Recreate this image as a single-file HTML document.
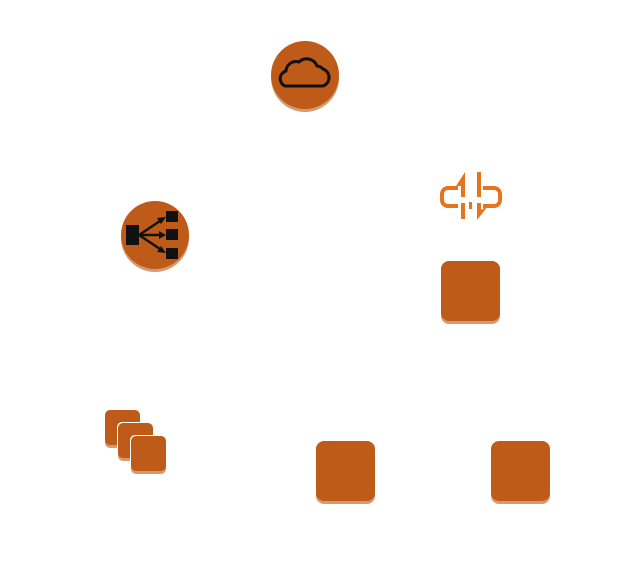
<!DOCTYPE html>
<html><head><style>html,body{margin:0;padding:0;background:#fff;width:621px;height:571px;overflow:hidden}</style></head>
<body>
<svg width="621" height="571" viewBox="0 0 621 571" xmlns="http://www.w3.org/2000/svg">
<defs>
<g id="sq"><rect x="0" y="3" width="59" height="60" rx="8" fill="#D49A72"/><rect x="0" y="0" width="59" height="60" rx="8" fill="#BE5B18"/></g>
</defs>
<circle cx="305" cy="78" r="34" fill="#D49A72"/>
<circle cx="305" cy="75" r="34" fill="#BE5B18"/>
<path d="M285 86 H323 A9 9 0 0 0 323 69 A9 9 0 0 0 317 66 A11 11 0 0 0 299 62 A10 10 0 0 0 286 71 A8 8 0 0 0 285 86 Z" fill="none" stroke="#111" stroke-width="3" stroke-linejoin="round"/>
<circle cx="155" cy="238" r="34" fill="#D49A72"/>
<circle cx="155" cy="235" r="34" fill="#BE5B18"/>
<rect x="126" y="225" width="13" height="20" fill="#111"/>
<rect x="166" y="211" width="12" height="11" fill="#111"/>
<rect x="166" y="229" width="12" height="11" fill="#111"/>
<rect x="166" y="248" width="12" height="11" fill="#111"/>
<g stroke="#111" stroke-width="2.5" fill="none"><line x1="139" y1="235" x2="163" y2="219"/><line x1="139" y1="235" x2="163" y2="235"/><line x1="139" y1="235" x2="163" y2="251"/></g>
<polygon points="166,217 157,218 161,224" fill="#111"/>
<polygon points="166,235 159,231 159,239" fill="#111"/>
<polygon points="166,253 161,246 157,252" fill="#111"/>
<g fill="none" stroke="#E8731E" stroke-width="4">
<path d="M458 188 H448 A6 6 0 0 0 442 194 V200 A6 6 0 0 0 448 206 H458"/>
<path d="M483 188 H494 A6 6 0 0 1 500 194 V200 A6 6 0 0 1 494 206 H483"/>
<line x1="463" y1="178" x2="463" y2="197"/>
<line x1="479" y1="172" x2="479" y2="197"/>
<line x1="463" y1="203" x2="463" y2="219"/>
<line x1="479" y1="203" x2="479" y2="212"/>
</g>
<polygon points="456,186 465,172 465,186" fill="#E8731E"/>
<polygon points="477,212 488,206 477,220" fill="#E8731E"/>
<rect x="469" y="202" width="3" height="7" fill="#E8731E"/>
<use href="#sq" x="441" y="261"/>
<use href="#sq" x="316" y="441"/>
<use href="#sq" x="491" y="441"/>
<g>
<rect x="105" y="413" width="35" height="35" rx="5" fill="#D49A72"/><rect x="105" y="410" width="35" height="35" rx="5" fill="#BE5B18"/>
<rect x="117" y="422" width="37" height="40" rx="5" fill="#fff"/>
<rect x="118" y="426" width="35" height="35" rx="5" fill="#D49A72"/><rect x="118" y="423" width="35" height="35" rx="5" fill="#BE5B18"/>
<rect x="130" y="435" width="37" height="40" rx="5" fill="#fff"/>
<rect x="131" y="439" width="35" height="35" rx="5" fill="#D49A72"/><rect x="131" y="436" width="35" height="35" rx="5" fill="#BE5B18"/>
</g>
</svg>
</body></html>
